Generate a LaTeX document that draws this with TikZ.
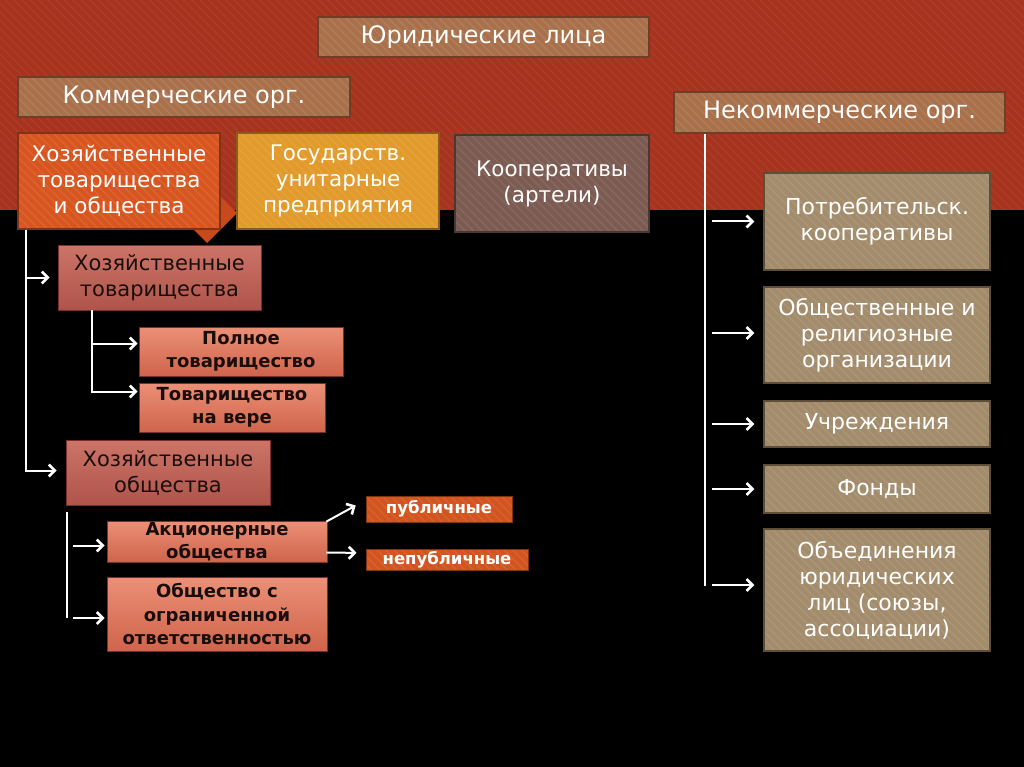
\documentclass[tikz,border=0pt]{standalone}
\usepackage{fontspec}
\setmainfont{DejaVu Sans}
\usetikzlibrary{calc,arrows.meta,patterns.meta}
\definecolor{bandred}{HTML}{A4331F}
\definecolor{bandstripe}{HTML}{AE3B25}
\definecolor{boxtan}{HTML}{A9714B}
\definecolor{boxtanD}{HTML}{6E3E26}
\definecolor{hotocol}{HTML}{D85520}
\definecolor{hotoD}{HTML}{C84A1C}
\definecolor{gupcol}{HTML}{E29A2B}
\definecolor{coopcol}{HTML}{7B5B52}
\definecolor{rightcol}{HTML}{A38C6C}
\definecolor{rightD}{HTML}{5E4E38}
\definecolor{pinkT}{HTML}{CD7468}
\definecolor{pinkB}{HTML}{AE544A}
\definecolor{salT}{HTML}{EB9077}
\definecolor{salB}{HTML}{CF644B}
\definecolor{pinkD}{HTML}{7A3028}
\definecolor{pubcol}{HTML}{D2541E}
\definecolor{inktext}{HTML}{1A0E0C}
\tikzset{
  box/.style={rectangle, inner sep=0pt, align=center, anchor=center},
  striped/.style={preaction={fill=#1}, preaction={pattern={Lines[angle=-45,distance=6pt,line width=1.5pt]}, pattern color=#1!92!white}},
  bigwhite/.style={text=white, font=\fontsize{21.5}{26}\selectfont},
  tanbox/.style={box, striped=boxtan, draw=boxtanD, line width=1.2pt, text=white, font=\fontsize{24}{26}\selectfont},
  topbox/.style={box, striped=#1, draw=black!40!#1, line width=1.2pt, bigwhite},
  rbox/.style={box, striped=rightcol, draw=rightD, line width=1.2pt, text=white, font=\fontsize{22}{26}\selectfont},
  pinkbox/.style={box, top color=pinkT, bottom color=pinkB, draw=pinkD, line width=0.8pt, text=inktext, font=\fontsize{21}{26}\selectfont},
  salbox/.style={box, top color=salT, bottom color=salB, draw=pinkD, line width=0.8pt, text=inktext, font=\bfseries\fontsize{18}{23.5}\selectfont},
  pubbox/.style={box, striped=pubcol, draw=pubcol!60!black, line width=0.8pt, text=white, font=\bfseries\fontsize{16.5}{16}\selectfont},
  wline/.style={draw=white, line width=2pt},
  arr/.style={draw=white, line width=2pt, -{Straight Barb[length=6pt,width=12pt,line width=2.6pt]}}
}
\begin{document}
\begin{tikzpicture}[x=1pt,y=-1pt]
\useasboundingbox (0,0) rectangle (1024,767);
\fill[black] (0,0) rectangle (1024,767);
\fill[bandred] (0,0) rectangle (1024,210);
\fill[pattern={Lines[angle=-45,distance=6pt,line width=1.6pt]}, pattern color=bandstripe] (0,0) rectangle (1024,210);

% pointer of the first box
\fill[hotoD] (207,243) -- (237,213) -- (207,183) -- (177,213) -- cycle;

\node[tanbox, minimum width=331pt, minimum height=40pt] (jur) at (483.5,37) {Юридические лица};
\node[tanbox, minimum width=332pt, minimum height=40pt] (comm) at (184,97) {Коммерческие орг.};
\node[tanbox, minimum width=331pt, minimum height=41pt] (noncomm) at (839.5,112.5) {Некоммерческие орг.};

\node[topbox=hotocol, minimum width=202pt, minimum height=96pt] (hto) at (119,181) {Хозяйственные\\товарищества\\и общества};
\node[topbox=gupcol, minimum width=202pt, minimum height=96pt] (gup) at (338,181) {Государств.\\унитарные\\предприятия};
\node[topbox=coopcol, minimum width=194pt, minimum height=97pt] (coop) at (552,183.5) {Кооперативы\\(артели)};

\node[pinkbox, minimum width=203pt, minimum height=65pt] (ht) at (159.5,277.5) {Хозяйственные\\товарищества};
\node[salbox, minimum width=204pt, minimum height=49pt] (pt) at (241,351.5) {Полное\\товарищество};
\node[salbox, minimum width=186pt, minimum height=49pt] (tv) at (232,407.5) {Товарищество\\на вере};
\node[pinkbox, minimum width=204pt, minimum height=65pt] (ho) at (168,472.5) {Хозяйственные\\общества};
\node[salbox, minimum width=220pt, minimum height=41pt] (ao) at (217,541.5) {Акционерные\\общества};
\node[salbox, minimum width=220pt, minimum height=74pt] (ooo) at (217,614) {Общество с\\ограниченной\\ответственностью};
\node[pubbox, minimum width=146pt, minimum height=26pt] (pub) at (439,509) {публичные};
\node[pubbox, minimum width=162pt, minimum height=21pt] (nonpub) at (447,559.5) {непубличные};

\node[rbox, minimum width=226pt, minimum height=97pt] (r1) at (877,221.5) {Потребительск.\\кооперативы};
\node[rbox, minimum width=226pt, minimum height=96pt] (r2) at (877,335) {Общественные и\\религиозные\\организации};
\node[rbox, minimum width=226pt, minimum height=46pt] (r3) at (877,424) {Учреждения};
\node[rbox, minimum width=226pt, minimum height=48pt] (r4) at (877,489) {Фонды};
\node[rbox, minimum width=226pt, minimum height=122pt] (r5) at (877,590) {Объединения\\юридических\\лиц (союзы,\\ассоциации)};

% left tree
\coordinate (lv) at ($(hto.south west)+(9,0)$);
\draw[arr, shorten >=8pt] (lv) |- (ht.west);
\draw[arr, shorten >=9pt] (lv) |- ($(ho.west)+(0,-2)$);

\coordinate (iv) at ($(ht.south west)+(34,0)$);
\draw[arr, shorten >=1pt] (iv) |- ($(pt.west)+(0,-8)$);
\draw[arr, shorten >=1pt] (iv) |- ($(tv.west)+(0,-16)$);

\coordinate (bvt) at ($(ho.south west)+(1,7)$);
\coordinate (bvb) at ($(ho.south west)+(1,113)$);
\draw[wline] (bvt) -- (bvb);
\coordinate (aot) at ($(ao.west)+(-34,4)$);
\coordinate (oot) at ($(ooo.west)+(-34,4)$);
\draw[arr, shorten >=2pt] (aot) -- ($(ao.west)+(0,4)$);
\draw[arr, shorten >=2pt] (oot) -- ($(ooo.west)+(0,4)$);

\draw[arr, shorten >=1pt] ($(ao.north east)+(-1,1)$) -- ($(pub.west)+(-9,-4)$);
\draw[arr, shorten >=9pt] ($(ao.east)+(-1,11)$) -- ($(nonpub.west)+(0,-6.5)$);

% right tree
\coordinate (rv) at ($(noncomm.south west)+(32,0)$);
\coordinate (rvb) at ($(rv |- r5.west)+(0,-4)$);
\draw[wline] (rv) -- (rvb);
\foreach \n/\dy in {r1/0,r2/-2,r3/0,r4/0,r5/-5}{
  \draw[arr, shorten >=9pt] ($(\n.west)+(-51,\dy)$) -- ($(\n.west)+(0,\dy)$);
}
\end{tikzpicture}
\end{document}
